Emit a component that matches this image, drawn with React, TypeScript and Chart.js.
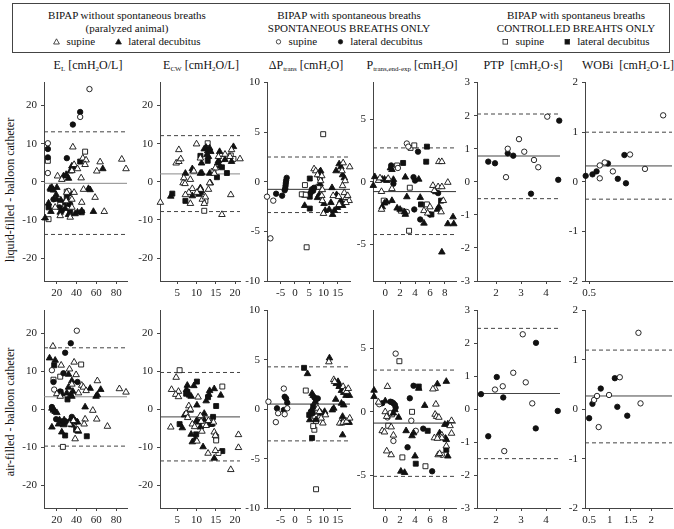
import React, { useEffect, useRef } from "react";
import { Chart, registerables } from "chart.js";
Chart.register(...registerables);

type Pt = [number, number];

// ---------------- DATA: liquid-filled - balloon catheter (row 1) ----------------
const EL_liq_triO: Pt[] = [[36.2,9.1],[46.3,6.2],[49.6,5.7],[63.8,5.2],[85.7,5.9],[90,3.4],[60.4,2.8],[37.5,4.5],[40.9,3.4],[48.6,4.5],[35.2,2.9],[44.6,1.0],[20.7,1.5],[25,0.6],[47,-2],[58.7,-4.1],[45.2,-5.4],[35.2,-6.7],[33.5,-9.3],[23.4,-8.9],[18.3,-6.7],[35.2,-4.6],[68,-7.8],[29.4,-5],[37.5,-2.8],[30,-2.8]];
const EL_liq_triF: Pt[] = [[8.2,-9.5],[13.3,-1.7],[14,-2],[15,-1.5],[16.6,-2.2],[11.6,-5.6],[14,-7.8],[19.3,-3.4],[20,-4.6],[24,-4.8],[26.7,1.5],[29.4,1.9],[31.8,0.9],[33.5,2.8],[36.8,3.8],[35.2,4.1],[31.8,-5.9],[28.4,-7],[23.4,-8],[31.8,-8.6],[38.5,-8.4],[40.9,-8],[45.2,-7.6],[52,-1.8],[53.7,-2.1],[57,-7.8],[66.5,3.4],[20,-1.5]];
const EL_liq_cirO: Pt[] = [[53,24.3],[43.6,17],[10.9,10.1],[10.9,2.3],[31.8,-2.4]];
const EL_liq_cirF: Pt[] = [[43.6,18.3],[36.2,15],[10.9,8.6],[10.9,6.4],[30.1,6.2],[16.6,-4.6],[22.7,-6.7],[32.8,-3],[33.5,-5.9],[25,-7.6]];
const EL_liq_sqO: Pt[] = [[10.9,5.5],[48.6,7.9],[11.6,-9.8],[30,-2.6],[23.4,-6]];
const EL_liq_sqF: Pt[] = [[43.6,5.3],[11.6,-6.7],[26.7,-5.4],[30,-4.1],[45.2,-8],[33.5,-8]];
const EL_liq_lines = [-0.4, 13.1, -13.8];

const ECW_liq_triO: Pt[] = [[0.6,-5.4],[5.4,8.4],[4.7,4.9],[5.4,5.3],[5.9,6.0],[10,9.9],[6.7,1.0],[6.5,-0.3],[7,-0.5],[8.4,0.6],[8.9,-1.8],[8,-2.8],[7.1,-3.4],[8.4,-5.7],[11,-2],[10.1,-2.8],[11.5,-4.6],[12,-5.7],[12.3,-4],[13.1,-2],[13.4,-0.3],[9.3,2.8],[14.9,3.6],[16.6,-8.6],[15.7,6.6],[17.4,7.2],[18.7,6.6],[19.1,8.4],[18.9,-3.4],[21.3,6],[14.6,2.2],[11,6.2]];
const ECW_liq_triF: Pt[] = [[3.3,-3.8],[7.1,2.2],[8.9,3.4],[9.1,2.9],[8.9,-3.7],[11,-1.6],[11.3,-2.4],[11,-2.8],[10.6,-3.3],[11,2.2],[11.4,2.3],[11.3,4.9],[12,8.6],[12.5,9],[12.9,8.1],[13.4,8.8],[13.7,7.9],[13.1,6.6],[12.7,7.1],[13.4,2.2],[13.6,-0.3],[16,7.9],[15.5,4.9],[15.7,5.5],[16.1,4.1],[17.4,5.8],[19.6,9.2],[19.1,5.3]];
const ECW_liq_sqO: Pt[] = [[12.9,10.1],[12,-7.6],[12.3,-5],[14.4,2.8],[18.9,6.9],[19.6,6],[16.8,6]];
const ECW_liq_sqF: Pt[] = [[3.7,-3.1],[7.1,-5],[11,6.8],[12.9,5.5],[16.6,3.8],[15.3,1.2],[17.9,2.3]];
const ECW_liq_lines = [2.07, 12.1, -7.8];

const DP_liq_cirO: Pt[] = [[-9.8,-1.5],[-7.6,-1.9],[-8.6,-5.7]];
const DP_liq_cirF: Pt[] = [[-6.6,-1.2],[-4.5,-1.4],[-2.9,0.4],[-3.1,0.13],[-3.2,-0.13],[-3.3,-0.4],[-3.4,-0.66],[-3.6,-0.86],[5.9,-0.76],[6.4,-0.9],[5.5,-1.1],[6.7,-0.6]];
const DP_liq_sqO: Pt[] = [[3.5,-0.33],[2.4,-1.26],[4.1,-6.6],[9.9,4.8],[8.8,0.4],[8.2,-0.5],[3.8,-1.3]];
const DP_liq_sqF: Pt[] = [[3.2,-1.3],[5.2,-1.5],[5.2,-2.7],[5.2,0.33],[8.5,0.7]];
const DP_liq_triF: Pt[] = [[3.4,-2.4],[8.7,1],[9,1.1],[8.8,-0.2],[7.9,-1.6],[8.5,-1.3],[10.2,-2.2],[10.6,-2.9],[12,-2.8],[12.6,-2.1],[13,-0.6],[13.2,-3.3],[13.8,-2.9],[14.6,-1.3],[14.9,-2.6],[16.1,-1.9],[16.7,-2.4],[14.4,1.1],[15.5,1.8],[16.1,1.5],[16.7,0.7],[17.3,0.4]];
const DP_liq_triO: Pt[] = [[6.7,1.3],[7.3,1.1],[7.9,0.7],[9.4,0.6],[9,0.1],[9.6,-0.8],[9.4,-1.4],[9.6,-1.9],[10,-3.2],[13.4,-1.4],[15.3,-1.5],[15.5,-2.3],[16.7,-0.4],[16.9,1.9],[16.5,1.1],[17.6,0.1],[17.3,-1.1],[17.9,-1.6],[18.5,-1.4],[19,-1.9],[19.2,1.5],[17.9,-2.1]];
const DP_liq_lines = [-0.76, 2.5, -3.1];

const PT_liq_triF: Pt[] = [[-1.4,0.4],[-1.6,-0.3],[-0.4,0.2],[-0.1,0.2],[0.2,0.1],[0.7,1.1],[0.9,0.97],[1.1,0.18],[-0.4,-2],[-0.1,-1.7],[0.2,-1.6],[0.9,-1.5],[1.6,-2.1],[2,-2.2],[2.6,-2.4],[2.7,-2.6],[2.9,-1.2],[2.7,0.37],[4.5,0.2],[4.7,-1.25],[5.2,-3.3],[6.8,-0.8],[7,-2.2],[7.2,-2.0],[7.6,-5.6],[8.4,-3.35],[9.2,-3.35],[9.1,-2.8]];
const PT_liq_triO: Pt[] = [[-0.9,0.1],[-0.7,0.3],[0.4,0.26],[0.9,-0.55],[-0.5,-0.78],[-0.5,-2.2],[5.2,-2.3],[5.7,-2.5],[6,-2],[6.4,-0.3],[6.6,-0.7],[7.1,-0.4],[7.6,-0.4],[7.5,-2.4],[7.8,-1.5],[7.2,1.6],[7.6,1.6],[8.4,-0.05]];
const PT_liq_cirF: Pt[] = [[0.8,1.3],[1.1,-0.15],[3.8,0.37],[4,0.1],[4.4,2.4],[3.9,-2.2],[4.7,-3.0],[6,-2.6],[7.1,-0.9]];
const PT_liq_cirO: Pt[] = [[1.7,1.1],[2.9,-2.4],[2.9,3.05],[3.1,2.8]];
const PT_liq_sqO: Pt[] = [[-0.2,-1.5],[1.6,1.3],[2.1,-2.3],[3.4,2.7],[3.9,2.9],[3.3,-0.47],[3.2,-3.9],[5.6,-1.8]];
const PT_liq_sqF: Pt[] = [[2.4,1.5],[4.8,-1.8],[5.6,2.8],[5.5,1.6],[6.2,-2.6],[7.5,-1.5]];
const PT_liq_lines = [-0.78, 2.7, -4.2];

const PTP_liq_cirF: Pt[] = [[1.69,0.61],[1.96,0.56],[2.47,0.86],[2.69,0.79],[3.4,-0.36],[4.53,1.85],[4.49,0.06]];
const PTP_liq_cirO: Pt[] = [[2.4,0.14],[2.47,1.0],[2.92,1.29],[3.13,0.91],[3.52,0.66],[3.69,0.44],[4.05,1.97]];
const PTP_liq_lines = [0.78, 2.05, -0.51];

const WOB_liq_cirF: Pt[] = [[0.479,0.12],[0.519,0.15],[0.543,0.21],[0.61,0.37],[0.668,0.06],[0.716,-0.03],[0.707,0.54]];
const WOB_liq_cirO: Pt[] = [[0.562,0.07],[0.562,0.33],[0.591,0.39],[0.639,0.21],[0.74,0.55],[0.828,0.26],[0.935,1.34]];
const WOB_liq_lines = [0.32, 1.0, -0.35];

// ---------------- DATA: air-filled - balloon catheter (row 2) ----------------
const EL_air_cirO: Pt[] = [[40.2,20.7],[15,10.3],[17.3,5.2]];
const EL_air_cirF: Pt[] = [[34.1,17.4],[28.4,14.9],[26.7,9.5],[16.6,7.2],[23.4,4.7],[40.9,7.2],[15,0.6],[16,0],[19.3,-2.6],[25,-3.2],[35.2,-2],[39.5,-3.2]];
const EL_air_triO: Pt[] = [[16,16.6],[24.4,11.6],[32.8,10.6],[37.5,12.4],[39.5,9.1],[35.2,6.6],[45.2,6.3],[46.9,5.8],[49.6,4.9],[41.9,4.3],[61,7.5],[83.3,5.4],[90,4.5],[56.4,-0.3],[20,4.1],[23.4,3.4],[32.8,-3.9],[36.8,-3],[40.9,-5.4],[38.5,-7.8],[48.6,-2.6],[47.6,-3.9],[60.4,-2.6],[71.2,-4.5]];
const EL_air_triF: Pt[] = [[12.6,13.5],[18.3,12.9],[31.8,9.2],[31.8,5.8],[35.2,7.5],[36.2,4.7],[34.1,3.9],[35.2,3.4],[30.1,4.3],[53.7,5.5],[64.4,5.2],[59.7,3.4],[61,3.8],[48.6,0.6],[25,4.1],[15,0.26],[16.6,-0.26],[18.3,-0.6],[20,-0.9],[22.7,-2.8],[27.4,-2.8],[29.4,-3.4],[26.7,-4.1],[21.7,-3.9],[33.5,-2.8],[38.5,-3],[40.9,-3.4],[41.9,-5.8],[25,-6],[15,-4.7],[35.2,-4.1]];
const EL_air_sqO: Pt[] = [[23.4,8.6],[44.6,11.8],[16.6,7.8],[23.8,4.5],[26.1,-9.9],[37,-4]];
const EL_air_sqF: Pt[] = [[17.3,11.6],[30.8,2.6],[30,-3.4],[39.5,-5.4],[28.4,-6.9],[50.3,-7.1]];
const EL_air_lines = [3.3, 16.2, -9.7];

const ECW_air_sqO: Pt[] = [[5.6,10.3],[16.7,6],[15.7,-11.5],[15.1,-7.3],[15.1,-8.2]];
const ECW_air_triO: Pt[] = [[4.7,8.4],[3.5,5.2],[5.3,4.7],[4.6,3.9],[5.3,3.3],[10.4,3.2],[3.3,-4.7],[7.3,-1.1],[8,0.9],[8.4,0],[7.7,-2.2],[8.9,-3.9],[9.5,-4.6],[10.1,-8.4],[11.2,-3.2],[11.4,-5.8],[12.5,-4.3],[13,-11.6],[14.9,-10.9],[14.6,-6],[14.9,-6.9],[14.4,-3.4],[20.9,-6.7],[20.9,-10.1],[18.9,-15.9],[11,-1.7],[13.1,-3]];
const ECW_air_triF: Pt[] = [[7.6,6.3],[7.4,5.2],[9.3,6.2],[8.6,3.4],[8.2,3.7],[13.4,4.9],[13.2,3.9],[12.5,2.2],[14.6,5.4],[16.3,3.7],[10.1,1.1],[6.3,-4.9],[6.9,-1.5],[8.3,-0.26],[8.6,-6.6],[8.9,-8.6],[9.7,-7.8],[10,-3],[10.6,-3.4],[11,-4.7],[12,-2.8],[12,-1.1],[12.9,-4],[13.6,-4],[14,-3.9],[11.7,-9.9],[14.6,-12.9]];
const ECW_air_sqF: Pt[] = [[7.6,4.6],[7.3,4.1],[10.1,7.3],[13,3.2],[15.1,0.86],[5.6,-3.9],[9.9,-6.6],[16.7,-11],[14.3,-2]];
const ECW_air_lines = [-2, 9.7, -13.6];

const DP_air_cirO: Pt[] = [[-9.3,0.77],[-6.7,-1.3],[-5.9,-0.4],[-3.9,2.1],[-3.6,-0.5],[-2.7,0.1]];
const DP_air_cirF: Pt[] = [[-6.3,0.1],[-3.9,-0.07],[-3.6,1.27],[-3.1,1.1],[-2.7,0.67],[6.8,1.2],[7.4,1.0],[8,1.1],[5.6,-0.23],[6.2,-0.4]];
const DP_air_sqF: Pt[] = [[3.2,4.2],[6.4,0.27],[5,-0.57],[6,-2.9]];
const DP_air_sqO: Pt[] = [[3.8,1.9],[7.1,-0.73],[7.4,-1.2],[6.8,-2.07],[6.4,-1.7],[7.4,-8.1]];
const DP_air_triF: Pt[] = [[4.4,3.6],[6,1.6],[6.4,1.4],[7.1,0.77],[6,0],[5.2,-1.07],[7.4,-1.07],[9.2,-0.4],[10.4,-0.23],[12.1,5.2],[13.1,-0.07],[13.6,0.1],[14.3,1.0],[14.5,2.6],[15.1,2.8],[15.7,2.4],[15.5,2.3],[16.3,1.9],[17.1,1.7],[16.3,0.6],[17.9,1.4],[19.1,1.4],[17.1,0.43],[16.7,-0.73],[16.3,-1.4],[16.7,-2.6],[18.7,-1.33],[19,-1.33]];
const DP_air_triO: Pt[] = [[8,0.1],[8.6,-0.23],[9.8,-1.4],[9.2,-0.9],[10.7,-0.57],[11.9,4.8],[13.6,3],[13.9,2.8],[16.9,2.3],[17.5,1.9],[18.1,1.8],[18.7,2.1],[15.7,-1.4],[16.9,-1.33],[18.1,-1.23],[19.2,-0.9]];
const DP_air_lines = [0.53, 4.3, -3.2];

const PT_air_triF: Pt[] = [[-1.5,1.7],[-1.5,1.2],[0,0.86],[1.3,0.16],[1.1,-0.1],[1.8,-0.44],[2.1,-4.7],[2.6,-4.8],[2.8,-1.5],[3.6,-1.9],[3.8,-1.67],[4,-3.5],[4.5,1.85],[5.3,0.5],[7,2.2],[7.3,-1.67],[8,-1.0],[8.4,-0.97],[8.1,-2.1],[8.4,-3.5],[8.2,2.4],[8.2,-2.2]];
const PT_air_triO: Pt[] = [[-0.9,0.76],[0.3,2.0],[0,0],[0.2,-0.37],[0.8,-1.2],[-0.4,-1.5],[-0.1,-1.6],[1.1,-1.85],[0.2,-3.1],[0.8,-3.4],[6.7,1.85],[6.4,1.8],[6.8,0.6],[6.7,-0.2],[6.9,-0.37],[7.2,-0.44],[7.6,-1.85],[7.6,-2.06],[8.9,-0.7],[8.7,-1.1],[8.9,-1.7],[8.2,-2.7],[7.1,-3.4],[7.3,-3.3],[6.6,-2.06],[7,-2.1]];
const PT_air_cirO: Pt[] = [[-0.8,0.6],[1.4,4.6],[0.7,-0.1],[0.3,-0.44],[1.1,-2.3],[3.5,-0.7],[4.1,-1.5],[7.6,-3.4]];
const PT_air_cirF: Pt[] = [[-0.4,0.68],[0.7,0.8],[0.9,0.76],[1.1,0.68],[1.3,0.55],[1.4,0.34],[3,-2.8],[3.3,1.07],[3.8,2.06],[5.1,-1.33],[6.3,-4.7]];
const PT_air_sqO: Pt[] = [[1.9,4.0],[0.9,-0.2],[0.4,-1.1],[2.3,-3.6],[3.6,0],[5.4,-4.3]];
const PT_air_sqF: Pt[] = [[4.1,-4.1],[4.5,2.0],[5.7,-1.5],[8.2,-3]];
const PT_air_lines = [-0.89, 3.3, -5.1];

const PTP_air_cirF: Pt[] = [[1.4,0.46],[1.69,-0.82],[2.03,0.98],[2.29,0.36],[3.6,2.02],[3.59,-0.58],[4.47,-0.05]];
const PTP_air_cirO: Pt[] = [[1.96,0.6],[2.27,0.7],[2.33,-1.27],[2.69,1.11],[3.07,2.28],[3.19,0.82],[3.45,0.18]];
const PTP_air_lines = [0.48, 2.46, -1.5];

const WOB_air_cirF: Pt[] = [[0.5,-0.18],[0.58,0.11],[0.78,0.42],[1.12,0.63],[1.18,0.05],[1.42,-0.13]];
const WOB_air_cirO: Pt[] = [[0.62,0.19],[0.69,0.27],[0.73,-0.36],[0.98,0.29],[1.24,0.65],[1.69,1.55],[1.74,0.12]];
const WOB_air_lines = [0.27, 1.2, -0.68];

// ---------------- axis ranges and tick labels ----------------
const EL_xTicks = [20, 40, 60, 80];
const ECW_xTicks = [5, 10, 15, 20];
const DP_xTicks = [-5, 0, 5, 10, 15];
const PT_xTicks = [0, 2, 4, 6, 8];
const PTP_xTicks = [2, 3, 4];
const WOB_liq_xTicks = [0.5];
const WOB_air_xTicks = [0.5, 1, 1.5, 2];
const E_yTicks = [-20, -10, 0, 10, 20];
const DP_yTicks = [-10, -5, 0, 5, 10];
const PT_yTicks = [-5, 0, 5];
const PTP_yTicks = [-3, -2, -1, 0, 1, 2, 3];
const WOB_yTicks = [-2, -1, 0, 1, 2];

type Series = { triO?: Pt[]; triF?: Pt[]; cirO?: Pt[]; cirF?: Pt[]; sqO?: Pt[]; sqF?: Pt[] };
interface PanelCfg {
  L: number; R: number; T: number; B: number;
  xr: [number, number]; xt: number[]; yr: [number, number]; yt: number[];
  lines: number[]; meanColor: string; s: Series;
}

const ROW1 = { T: 80, B: 281 };
const ROW2 = { T: 308, B: 508 };
const COLS = [
  { L: 44, R: 127 },
  { L: 160, R: 240 },
  { L: 267, R: 350 },
  { L: 373, R: 456 },
  { L: 477, R: 560 },
  { L: 585, R: 672 },
];

const PANELS: PanelCfg[] = [
  { ...COLS[0], ...ROW1, xr: [7, 91], xt: EL_xTicks, yr: [-26, 26], yt: E_yTicks, lines: EL_liq_lines, meanColor: "#8a8a8a",
    s: { triO: EL_liq_triO, triF: EL_liq_triF, cirO: EL_liq_cirO, cirF: EL_liq_cirF, sqO: EL_liq_sqO, sqF: EL_liq_sqF } },
  { ...COLS[1], ...ROW1, xr: [0.5, 21.3], xt: ECW_xTicks, yr: [-26, 26], yt: E_yTicks, lines: ECW_liq_lines, meanColor: "#8a8a8a",
    s: { triO: ECW_liq_triO, triF: ECW_liq_triF, sqO: ECW_liq_sqO, sqF: ECW_liq_sqF } },
  { ...COLS[2], ...ROW1, xr: [-9.8, 19.3], xt: DP_xTicks, yr: [-10, 10], yt: DP_yTicks, lines: DP_liq_lines, meanColor: "#333",
    s: { triO: DP_liq_triO, triF: DP_liq_triF, cirO: DP_liq_cirO, cirF: DP_liq_cirF, sqO: DP_liq_sqO, sqF: DP_liq_sqF } },
  { ...COLS[3], ...ROW1, xr: [-1.64, 9.5], xt: PT_xTicks, yr: [-7.9, 7.9], yt: PT_yTicks, lines: PT_liq_lines, meanColor: "#333",
    s: { triO: PT_liq_triO, triF: PT_liq_triF, cirO: PT_liq_cirO, cirF: PT_liq_cirF, sqO: PT_liq_sqO, sqF: PT_liq_sqF } },
  { ...COLS[4], ...ROW1, xr: [1.24, 4.56], xt: PTP_xTicks, yr: [-3, 3], yt: PTP_yTicks, lines: PTP_liq_lines, meanColor: "#444",
    s: { cirO: PTP_liq_cirO, cirF: PTP_liq_cirF } },
  { ...COLS[5], ...ROW1, xr: [0.475, 0.987], xt: WOB_liq_xTicks, yr: [-2, 2], yt: WOB_yTicks, lines: WOB_liq_lines, meanColor: "#444",
    s: { cirO: WOB_liq_cirO, cirF: WOB_liq_cirF } },

  { ...COLS[0], ...ROW2, xr: [7, 91], xt: EL_xTicks, yr: [-26, 26], yt: E_yTicks, lines: EL_air_lines, meanColor: "#8a8a8a",
    s: { triO: EL_air_triO, triF: EL_air_triF, cirO: EL_air_cirO, cirF: EL_air_cirF, sqO: EL_air_sqO, sqF: EL_air_sqF } },
  { ...COLS[1], ...ROW2, xr: [0.5, 21.3], xt: ECW_xTicks, yr: [-26, 26], yt: E_yTicks, lines: ECW_air_lines, meanColor: "#444",
    s: { triO: ECW_air_triO, triF: ECW_air_triF, sqO: ECW_air_sqO, sqF: ECW_air_sqF } },
  { ...COLS[2], ...ROW2, xr: [-9.8, 19.3], xt: DP_xTicks, yr: [-10, 10], yt: DP_yTicks, lines: DP_air_lines, meanColor: "#333",
    s: { triO: DP_air_triO, triF: DP_air_triF, cirO: DP_air_cirO, cirF: DP_air_cirF, sqO: DP_air_sqO, sqF: DP_air_sqF } },
  { ...COLS[3], ...ROW2, xr: [-1.64, 9.5], xt: PT_xTicks, yr: [-7.6, 8], yt: PT_yTicks, lines: PT_air_lines, meanColor: "#333",
    s: { triO: PT_air_triO, triF: PT_air_triF, cirO: PT_air_cirO, cirF: PT_air_cirF, sqO: PT_air_sqO, sqF: PT_air_sqF } },
  { ...COLS[4], ...ROW2, xr: [1.24, 4.56], xt: PTP_xTicks, yr: [-3, 3], yt: PTP_yTicks, lines: PTP_air_lines, meanColor: "#444",
    s: { cirO: PTP_air_cirO, cirF: PTP_air_cirF } },
  { ...COLS[5], ...ROW2, xr: [0.4, 2.5], xt: WOB_air_xTicks, yr: [-2, 2], yt: WOB_yTicks, lines: WOB_air_lines, meanColor: "#444",
    s: { cirO: WOB_air_cirO, cirF: WOB_air_cirF } },
];

const MARK: Record<string, { style: string; r: number; fill: string }> = {
  triO: { style: "triangle", r: 3.8, fill: "#ffffff" },
  triF: { style: "triangle", r: 3.8, fill: "#111111" },
  cirO: { style: "circle", r: 2.7, fill: "#ffffff" },
  cirF: { style: "circle", r: 2.7, fill: "#111111" },
  sqO: { style: "rect", r: 3.5, fill: "#ffffff" },
  sqF: { style: "rect", r: 3.5, fill: "#111111" },
};

const FONT = "'Liberation Serif', 'Times New Roman', serif";
const PADL = 40, PADT = 8, PADR = 6, PADB = 22;

function Panel({ cfg }: { cfg: PanelCfg }) {
  const ref = useRef<HTMLCanvasElement>(null);
  const w = cfg.R - cfg.L + PADL + PADR;
  const h = cfg.B - cfg.T + PADT + PADB;
  useEffect(() => {
    const datasets: any[] = [];
    cfg.lines.forEach((v, i) => {
      datasets.push({
        data: [{ x: cfg.xr[0], y: v }, { x: cfg.xr[1], y: v }],
        showLine: true, borderColor: i === 0 ? cfg.meanColor : "#444", borderWidth: 1,
        borderDash: i === 0 ? [] : [4, 3], pointRadius: 0, order: 5, clip: false,
      });
    });
    (Object.keys(MARK) as (keyof Series)[]).forEach((k) => {
      const pts = cfg.s[k];
      if (!pts || !pts.length) return;
      const m = MARK[k];
      datasets.push({
        data: pts.map(([x, y]) => ({ x, y })),
        showLine: false, pointStyle: m.style, pointRadius: m.r,
        pointBackgroundColor: m.fill, pointBorderColor: "#111", pointBorderWidth: 0.9,
        order: 0, clip: false,
      });
    });
    const axisCommon = (ticks: number[]) => ({
      type: "linear" as const,
      afterBuildTicks: (s: any) => { s.ticks = ticks.map((v) => ({ value: v })); },
      grid: { display: true, drawOnChartArea: false, drawTicks: true, tickLength: 3, color: "#444", lineWidth: 1 },
      border: { display: true, color: "#444", width: 1 },
      ticks: { font: { family: FONT, size: 11 }, color: "#222", autoSkip: false, maxRotation: 0, minRotation: 0,
        callback: (v: any) => String(v) },
    });
    const xa: any = axisCommon(cfg.xt);
    xa.min = cfg.xr[0]; xa.max = cfg.xr[1];
    xa.ticks.padding = 3;
    xa.afterFit = (s: any) => { s.height = PADB; };
    const ya: any = axisCommon(cfg.yt);
    ya.min = cfg.yr[0]; ya.max = cfg.yr[1];
    ya.ticks.padding = 4;
    ya.afterFit = (s: any) => { s.width = PADL; };
    const chart = new Chart(ref.current!, {
      type: "scatter",
      data: { datasets },
      options: {
        animation: false, responsive: false, devicePixelRatio: 1,
        layout: { padding: { left: 0, right: PADR, top: PADT, bottom: 0 } },
        plugins: { legend: { display: false }, tooltip: { enabled: false } },
        scales: { x: xa, y: ya },
      } as any,
    });
    return () => chart.destroy();
  }, []);
  return (
    <canvas ref={ref} width={w} height={h}
      style={{ position: "absolute", left: cfg.L - PADL, top: cfg.T - PADT, width: w, height: h }} />
  );
}

function Mk({ shape, filled }: { shape: string; filled: boolean }) {
  const fill = filled ? "#111" : "#fff";
  let el: any;
  if (shape === "tri") el = <polygon points="3.5,0.8 6.4,6 0.6,6" fill={fill} stroke="#222" strokeWidth={0.8} />;
  else if (shape === "cir") el = <circle cx={3.5} cy={3.8} r={2.2} fill={fill} stroke="#222" strokeWidth={0.8} />;
  else el = <rect x={1} y={1.5} width={4.6} height={4.6} fill={fill} stroke="#222" strokeWidth={0.8} />;
  return <svg width={7} height={7} style={{ verticalAlign: "middle", marginRight: 6, position: "relative", top: -1 }}>{el}</svg>;
}

const SUB: React.CSSProperties = { fontSize: 7, verticalAlign: "baseline", position: "relative", top: 2, lineHeight: 0 };

function HeaderGroup({ cx, l1, l2, shape }: { cx: number; l1: string; l2: string; shape: string }) {
  const line = (top: number, content: any) => (
    <div style={{ position: "absolute", left: cx - 130, width: 260, top, textAlign: "center", fontSize: 11, lineHeight: "13px", whiteSpace: "nowrap" }}>{content}</div>
  );
  return (
    <>
      {line(9, l1)}
      {line(22, l2)}
      {line(35, <span><Mk shape={shape} filled={false} />supine<span style={{ display: "inline-block", width: 20 }} /><Mk shape={shape} filled={true} />lateral decubitus</span>)}
    </>
  );
}

function Title({ cx, children }: { cx: number; children: any }) {
  return (
    <div style={{ position: "absolute", left: cx - 70, width: 140, top: 58, textAlign: "center", fontSize: 12, lineHeight: "14px", whiteSpace: "nowrap" }}>{children}</div>
  );
}

function RowLabel({ cy, text }: { cy: number; text: string }) {
  return (
    <div style={{ position: "absolute", left: 10 - 100, width: 200, top: cy - 7, textAlign: "center", fontSize: 12, lineHeight: "14px", whiteSpace: "nowrap", transform: "rotate(-90deg)" }}>{text}</div>
  );
}

export default function App() {
  return (
    <div style={{ position: "absolute", left: 0, top: 0, width: 674, height: 529, overflow: "hidden", background: "#fff", fontFamily: FONT, color: "#111" }}>
      <div style={{ position: "absolute", left: 12, top: 3, width: 656, height: 48, border: "1px solid #444" }} />
      <HeaderGroup cx={127} l1="BIPAP without spontaneous breaths" l2="(paralyzed animal)" shape="tri" />
      <HeaderGroup cx={349} l1="BIPAP with spontaneous breaths" l2="SPONTANEOUS BREATHS ONLY" shape="cir" />
      <HeaderGroup cx={576} l1="BIPAP with spontaneus breaths" l2="CONTROLLED BREAHTS ONLY" shape="sq" />

      <Title cx={88}>E<sub style={SUB}>L</sub> [cmH<sub style={SUB}>2</sub>O/L]</Title>
      <Title cx={201}>E<sub style={SUB}>CW</sub> [cmH<sub style={SUB}>2</sub>O/L]</Title>
      <Title cx={306}>ΔP<sub style={SUB}>trans</sub> [cmH<sub style={SUB}>2</sub>O]</Title>
      <Title cx={412}>P<sub style={SUB}>trans,end-exp</sub> [cmH<sub style={SUB}>2</sub>O]</Title>
      <Title cx={523}>PTP&nbsp; [cmH<sub style={SUB}>2</sub>O·s]</Title>
      <Title cx={628}>WOBi&nbsp; [cmH<sub style={SUB}>2</sub>O·L]</Title>

      <RowLabel cy={190} text="liquid-filled - balloon catheter" />
      <RowLabel cy={412} text="air-filled - balloon catheter" />

      {PANELS.map((p, i) => <Panel key={i} cfg={p} />)}
    </div>
  );
}
